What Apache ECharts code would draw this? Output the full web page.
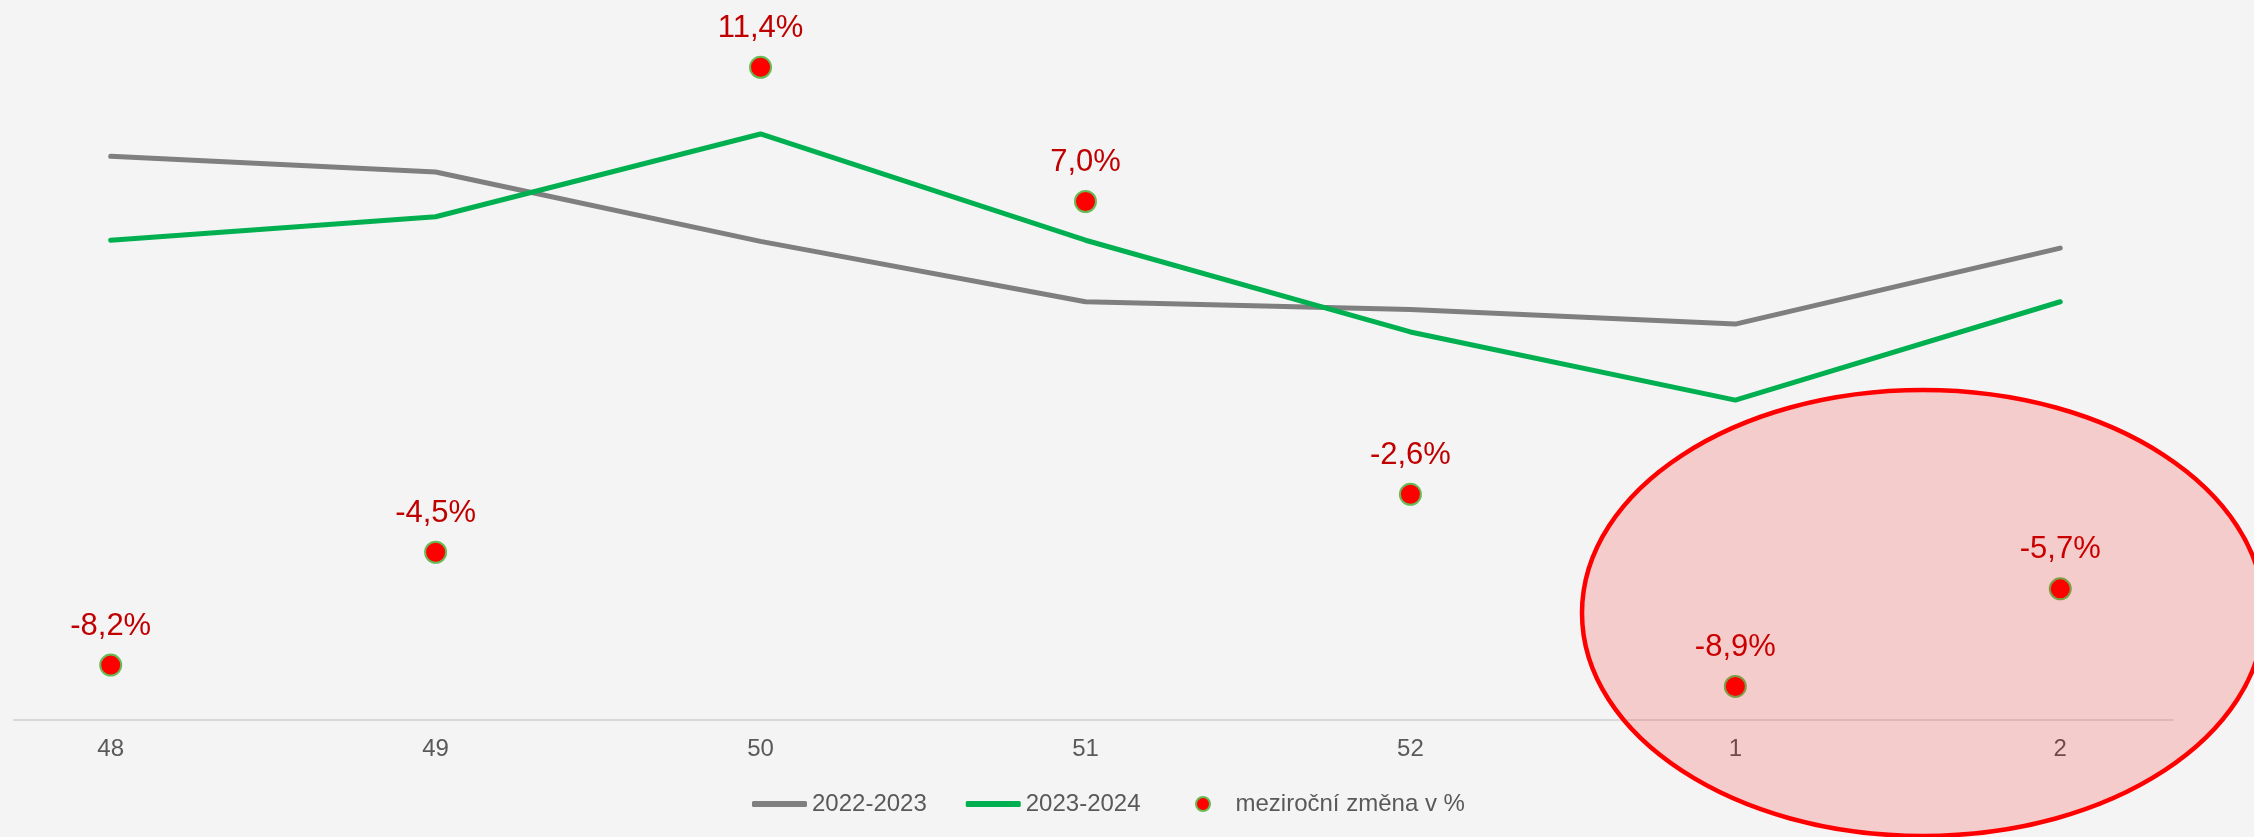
<!DOCTYPE html>
<html>
<head>
<meta charset="utf-8">
<script src="https://cdn.jsdelivr.net/npm/echarts@6/dist/echarts.min.js"></script>
<style>
  html, body { margin: 0; padding: 0; background: #f4f4f4; }
  #chart { width: 2254px; height: 837px; }
</style>
</head>
<body>
<div id="chart"></div>
<script>
// týdny (osa x)
const weeks = ['48', '49', '50', '51', '52', '1', '2'];
// hodnoty sezón (levá skrytá osa)
const season2223 = [90.4, 89.0, 82.8, 77.4, 76.7, 75.4, 82.2];
const season2324 = [82.9, 85.0, 92.4, 82.9, 74.7, 68.6, 77.4];
// meziroční změna v % (pravá skrytá osa)
const yoyChange = [-8.2, -4.5, 11.4, 7.0, -2.6, -8.9, -5.7];

const font = "'Liberation Sans', Arial, sans-serif";
const pairs = arr => arr.map((v, i) => [i, v]);
const legendText = { color: '#595959', fontSize: 24, fontFamily: font };

let chart = echarts.init(document.getElementById('chart'));
let option = {
  backgroundColor: '#f4f4f4',
  animation: false,
  textStyle: { fontFamily: font },
  grid: { left: 14, right: 81, top: 49, bottom: 117 },
  xAxis: {
    type: 'value',
    min: -0.2976,
    max: 6.347,
    splitLine: { show: false },
    axisTick: { show: false },
    axisLine: { show: true, onZero: false, lineStyle: { color: '#d9d9d9', width: 2 } },
    axisLabel: {
      customValues: weeks.map((w, i) => i),
      formatter: v => weeks[v],
      color: '#595959',
      fontSize: 24,
      fontFamily: font,
      margin: 17
    }
  },
  yAxis: [
    { type: 'value', min: 40, max: 100, show: false },
    { type: 'value', min: -10, max: 12, show: false }
  ],
  legend: [
    {
      left: 747,
      top: 787,
      itemWidth: 55,
      itemHeight: 6,
      itemGap: 39,
      icon: 'roundRect',
      textStyle: legendText,
      data: ['2022-2023', '2023-2024']
    },
    {
      left: 1190,
      top: 787,
      itemWidth: 55,
      itemHeight: 14,
      textStyle: legendText,
      data: ['meziroční změna v %']
    }
  ],
  series: [
    {
      name: '2022-2023',
      type: 'line',
      yAxisIndex: 0,
      symbol: 'none',
      data: pairs(season2223),
      lineStyle: { color: '#7f7f7f', width: 5, cap: 'round' },
      itemStyle: { color: '#7f7f7f' }
    },
    {
      name: '2023-2024',
      type: 'line',
      yAxisIndex: 0,
      symbol: 'none',
      data: pairs(season2324),
      lineStyle: { color: '#00b050', width: 5, cap: 'round' },
      itemStyle: { color: '#00b050' }
    },
    {
      name: 'meziroční změna v %',
      type: 'scatter',
      yAxisIndex: 1,
      symbolSize: 21,
      data: pairs(yoyChange),
      itemStyle: { color: '#ff0000', borderColor: '#66bb55', borderWidth: 2, opacity: 1 },
      label: {
        show: true,
        position: 'top',
        distance: 12,
        color: '#c00000',
        fontSize: 31,
        fontFamily: font,
        formatter: p => p.value[1].toFixed(1).replace('.', ',') + '%'
      },
      z: 5
    }
  ],
  graphic: [
    {
      type: 'ellipse',
      shape: { cx: 1923, cy: 613, rx: 341, ry: 223 },
      style: { fill: 'rgba(255,0,0,0.16)', stroke: '#ff0000', lineWidth: 4.5 },
      z: 100
    }
  ]
};
chart.setOption(option);
</script>
</body>
</html>
